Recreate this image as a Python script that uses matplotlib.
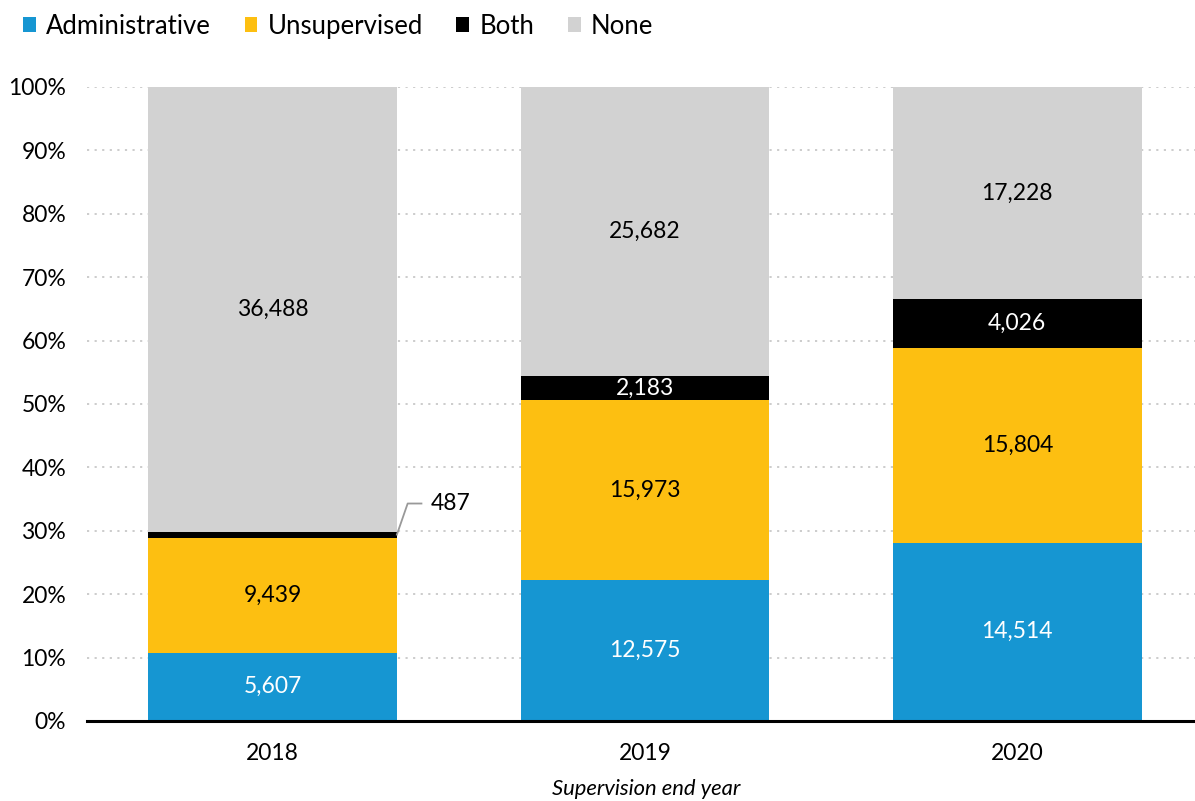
import matplotlib.pyplot as plt
import numpy as np
from matplotlib.patches import Patch

plt.rcParams['font.family'] = ['Lato', 'DejaVu Sans']

years = ["2018", "2019", "2020"]
administrative = [5607, 12575, 14514]
unsupervised = [9439, 15973, 15804]
both = [487, 2183, 4026]
none = [36488, 25682, 17228]

series = [("Administrative", administrative, "#1696d2", "white"),
          ("Unsupervised", unsupervised, "#fdbf11", "black"),
          ("Both", both, "#000000", "white"),
          ("None", none, "#d2d2d2", "black")]

totals = np.array(administrative) + np.array(unsupervised) + np.array(both) + np.array(none)

fig = plt.figure(figsize=(11.95, 8.01), dpi=100)
ax = fig.add_axes([0.0728, 0.0999, 0.9272, 0.7915])

x = np.arange(len(years))
bottom = np.zeros(len(years))
for name, vals, col, tcol in series:
    pct = np.array(vals) / totals * 100
    ax.bar(x, pct, 0.668, bottom=bottom, color=col, zorder=3)
    for i in range(len(years)):
        mid = bottom[i] + pct[i] / 2
        if name == "Both" and i == 0:
            # small segment: label outside with a leader line
            ax.plot([x[i] + 0.334, x[i] + 0.363, x[i] + 0.40], [mid, 34.3, 34.3],
                    color="#999999", lw=1.3, zorder=4, clip_on=False)
            ax.text(x[i] + 0.425, 34.3, f"{vals[i]:,}", ha="left", va="center",
                    fontsize=16.5, color="black")
        else:
            ax.text(x[i], mid, f"{vals[i]:,}", ha="center", va="center",
                    fontsize=16.5, color=tcol, zorder=5)
    bottom += pct

ax.set_xlim(-0.498, 2.477)
ax.set_ylim(0, 100)
ax.set_yticks(np.arange(0, 101, 10))
ax.set_yticklabels([f"{v}%" for v in range(0, 101, 10)], fontsize=16.5)
ax.set_xticks(x)
ax.set_xticklabels(years, fontsize=16.5)
ax.tick_params(length=0)
ax.tick_params(axis="x", pad=16)
ax.tick_params(axis="y", pad=15)
ax.yaxis.grid(True, linestyle=(0, (1.2, 3)), color="#c8c8c8", lw=1.3, zorder=0)
for s in ["top", "right", "left"]:
    ax.spines[s].set_visible(False)
ax.spines["bottom"].set_linewidth(2.2)
ax.spines["bottom"].set_zorder(6)
fig.text(0.541, 0.015, "Supervision end year", fontsize=15.8, style="italic",
         ha="center", va="center")

handles = [Patch(facecolor=c, label=n) for n, _, c, _ in series]
fig.legend(handles=handles, loc="upper left", bbox_to_anchor=(0.0, 1.012), ncol=4,
           frameon=False, fontsize=18.5, handlelength=0.5, handleheight=0.5,
           handletextpad=0.4, columnspacing=1.3)

fig.savefig("out.png", dpi=100)
